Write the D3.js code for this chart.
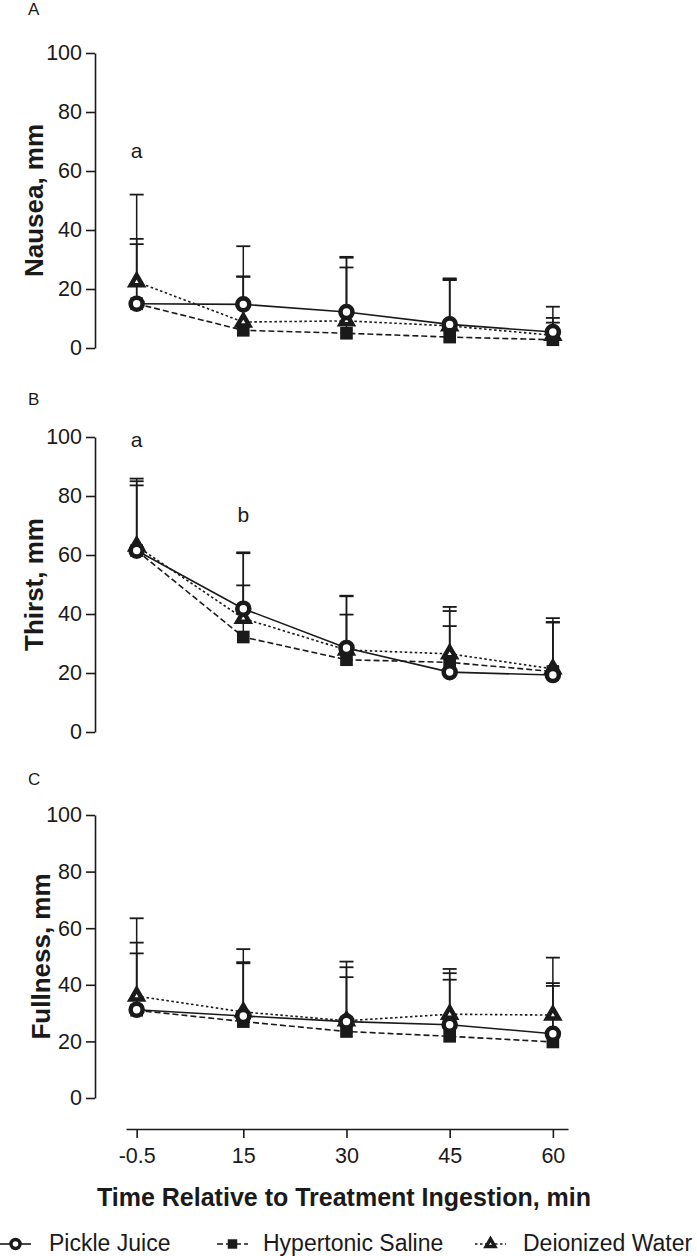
<!DOCTYPE html>
<html><head><meta charset="utf-8">
<script src="https://cdn.jsdelivr.net/npm/d3@7"></script>
<style>
body{margin:0;background:#fff}
svg{display:block}
text{font-family:"Liberation Sans",Arial,Helvetica,sans-serif;fill:#1a1a1a}
</style>
</head><body><svg id="c" width="697" height="1256"></svg>
<script>
// ---------- data ----------
const times = [-0.5, 15, 30, 45, 60];
const timeLabels = ["-0.5", "15", "30", "45", "60"];
const yTicks = [0, 20, 40, 60, 80, 100];
const seriesNames = ["Pickle Juice", "Hypertonic Saline", "Deionized Water"];
const panelLetters = ["A", "B", "C"];
const panelTitles = ["Nausea, mm", "Thirst, mm", "Fullness, mm"];
const xTitle = "Time Relative to Treatment Ingestion, min";

// Nausea (means, upper SD)
const nauseaPJ = [15.0, 14.8, 12.2, 8.0, 5.4];
const nauseaHS = [15.0, 6.0, 5.0, 3.7, 2.8];
const nauseaDW = [22.4, 8.8, 9.2, 7.5, 4.3];
const nauseaPJsd = [22.0, 19.7, 18.7, 15.6, 8.6];
const nauseaHSsd = [20.2, 18.3, 25.6, 19.5, 5.8];
const nauseaDWsd = [29.6, 15.3, 18.1, 15.5, 5.9];

// Thirst
const thirstPJ = [61.5, 41.8, 28.5, 20.3, 19.3];
const thirstHS = [61.5, 32.2, 24.5, 23.6, 20.5];
const thirstDW = [63.0, 38.5, 27.8, 26.5, 21.4];
const thirstPJsd = [24.4, 19.1, 17.7, 15.6, 17.8];
const thirstHSsd = [22.1, 17.5, 15.3, 17.4, 16.8];
const thirstDWsd = [22.0, 22.1, 18.2, 15.9, 17.2];

// Fullness
const fullPJ = [31.2, 29.0, 27.0, 25.9, 22.7];
const fullHS = [31.0, 27.0, 23.5, 21.8, 19.8];
const fullDW = [36.0, 30.4, 27.3, 29.6, 29.3];
const fullPJsd = [23.7, 19.0, 21.2, 18.2, 17.9];
const fullHSsd = [20.1, 20.6, 19.2, 20.0, 19.8];
const fullDWsd = [27.5, 22.2, 18.9, 16.0, 20.3];

// significance letters: [panel index, time, value, text]
const sigLetters = [[0, -0.5, 64.4, "a"], [1, -0.5, 96.7, "a"], [1, 15, 71.3, "b"]];

// ---------- build ----------
const panels = [
  {means: [nauseaPJ, nauseaHS, nauseaDW], sds: [nauseaPJsd, nauseaHSsd, nauseaDWsd]},
  {means: [thirstPJ, thirstHS, thirstDW], sds: [thirstPJsd, thirstHSsd, thirstDWsd]},
  {means: [fullPJ, fullHS, fullDW], sds: [fullPJsd, fullHSsd, fullDWsd]}
];
// layout
const yRanges = [[348, 53], [732, 437], [1098, 815]];
const titleX = [43, 43, 50];
const letterY = [15, 405, 785];
const ink = "#1a1a1a";

const svg = d3.select("#c");
const x = d3.scaleLinear().domain([-2.05, 62.2]).range([126, 568]);

const styles = [
  {dash: null, sym: "circle"},
  {dash: "6,3", sym: "square"},
  {dash: "2.5,2.5", sym: "triangle"}
];
function drawSymbol(g, type, cx, cy, scale) {
  scale = scale || 1;
  if (type === "circle") {
    g.append("circle").attr("cx", cx).attr("cy", cy).attr("r", 6 * scale)
      .attr("fill", "#fff").attr("stroke", ink).attr("stroke-width", 4.6 * scale);
  } else if (type === "square") {
    g.append("path").attr("transform", `translate(${cx},${cy})`)
      .attr("d", d3.symbol(d3.symbolSquare, 160 * scale * scale)())
      .attr("fill", ink);
  } else {
    g.append("path").attr("transform", `translate(${cx},${cy})`)
      .attr("d", d3.symbol(d3.symbolTriangle, 60 * scale * scale)())
      .attr("fill", "#fff").attr("stroke", ink).attr("stroke-width", 4.5 * scale)
      .attr("stroke-linejoin", "miter");
  }
}

panels.forEach((p, pi) => {
  const y = d3.scaleLinear().domain([0, 100]).range(yRanges[pi]);
  const g = svg.append("g");

  // y axis
  const ax = g.append("g").attr("transform", "translate(95,0)")
    .call(d3.axisLeft(y).tickValues(yTicks).tickSize(9).tickSizeOuter(0).tickPadding(4));
  ax.selectAll("path,line").attr("stroke", ink).attr("stroke-width", 1.6);
  ax.selectAll("text").attr("font-size", 21.5).style("fill", ink)
    .attr("font-family", "'Liberation Sans',Arial,sans-serif");

  // y title
  const yc = (yRanges[pi][0] + yRanges[pi][1]) / 2;
  g.append("text").attr("transform", `translate(${titleX[pi]},${yc}) rotate(-90)`)
    .attr("text-anchor", "middle").attr("font-size", 26).attr("font-weight", "bold")
    .text(panelTitles[pi]);

  // panel letter
  g.append("text").attr("x", 28).attr("y", letterY[pi]).attr("font-size", 17)
    .text(panelLetters[pi]);

  // lines
  p.means.forEach((m, si) => {
    const pts = times.map((t, i) => [t, m[i]]);
    g.append("path").datum(pts)
      .attr("d", d3.line().x(d => x(d[0])).y(d => y(d[1])))
      .attr("fill", "none").attr("stroke", ink).attr("stroke-width", 1.6)
      .attr("stroke-dasharray", styles[si].dash);
  });
  // error bars (upper only)
  p.means.forEach((m, si) => {
    times.forEach((t, i) => {
      const top = m[i] + p.sds[si][i];
      const cx = x(t);
      g.append("line").attr("x1", cx).attr("x2", cx).attr("y1", y(m[i])).attr("y2", y(top))
        .attr("stroke", ink).attr("stroke-width", 1.5);
      g.append("line").attr("x1", cx - 7).attr("x2", cx + 7).attr("y1", y(top)).attr("y2", y(top))
        .attr("stroke", ink).attr("stroke-width", 1.8);
    });
  });
  // markers: squares, triangles, circles
  [1, 2, 0].forEach(si => {
    times.forEach((t, i) => drawSymbol(g, styles[si].sym, x(t), y(p.means[si][i])));
  });

  sigLetters.filter(s => s[0] === pi).forEach(s => {
    g.append("text").attr("x", x(s[1])).attr("y", y(s[2])).attr("text-anchor", "middle")
      .attr("font-size", 21).text(s[3]);
  });
});

// x axis
const xa = svg.append("g").attr("transform", "translate(0,1129)")
  .call(d3.axisBottom(x).tickValues(times).tickFormat((d, i) => timeLabels[i])
    .tickSize(9).tickSizeOuter(0).tickPadding(10));
xa.selectAll("path,line").attr("stroke", ink).attr("stroke-width", 1.6);
xa.selectAll("text").attr("font-size", 21.5).style("fill", ink)
  .attr("font-family", "'Liberation Sans',Arial,sans-serif");

svg.append("text").attr("x", 344).attr("y", 1206).attr("text-anchor", "middle")
  .attr("font-size", 25).attr("font-weight", "bold").text(xTitle);

// legend
const legX = [0, 217, 475];
const legTextX = [49, 263, 523];
seriesNames.forEach((name, si) => {
  const lg = svg.append("g");
  lg.append("line").attr("x1", legX[si]).attr("x2", legX[si] + 31).attr("y1", 1244).attr("y2", 1244)
    .attr("stroke", ink).attr("stroke-width", 1.6).attr("stroke-dasharray", styles[si].dash);
  drawSymbol(lg, styles[si].sym, legX[si] + 15.5, 1244, 0.75);
  lg.append("text").attr("x", legTextX[si]).attr("y", 1251).attr("font-size", 23).text(name);
});
</script>
</body></html>
